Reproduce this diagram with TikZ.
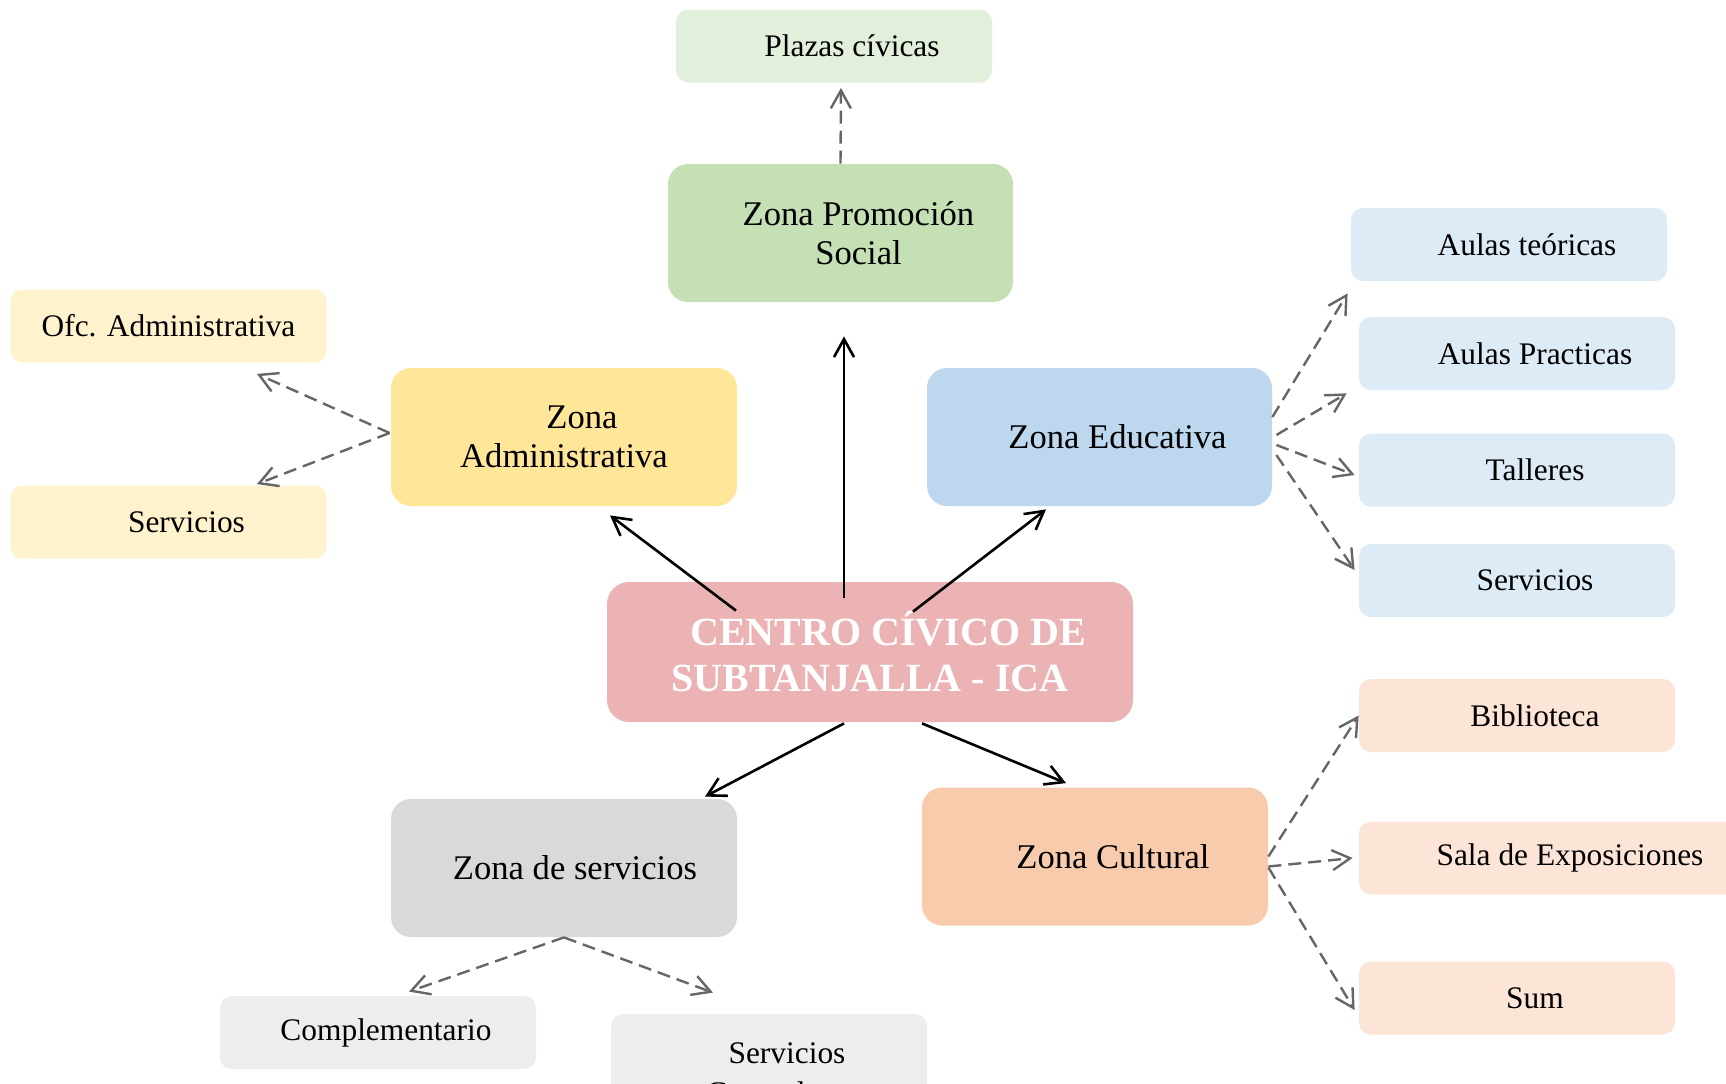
\documentclass[tikz,border=0pt]{standalone}
\usepackage{fontspec}
\setmainfont{Liberation Serif}
\usepackage{tikz}
\usetikzlibrary{arrows.meta, positioning}
\definecolor{rosa}{HTML}{EBB3B3}
\definecolor{verde}{HTML}{C5E0B4}
\definecolor{verdeclaro}{HTML}{E2EFDA}
\definecolor{amarillo}{HTML}{FFE699}
\definecolor{amarilloclaro}{HTML}{FFF2CC}
\definecolor{azul}{HTML}{BDD7EE}
\definecolor{azulclaro}{HTML}{DDEBF7}
\definecolor{naranja}{HTML}{F8CBAD}
\definecolor{naranjaclaro}{HTML}{FCE4D6}
\definecolor{gris}{HTML}{D9D9D9}
\definecolor{grisclaro}{HTML}{EDEDED}
\definecolor{linea}{HTML}{666666}
\newcommand{\indt}[1][18pt]{\hspace*{#1}}

\begin{document}
\begin{tikzpicture}[
    x=0.5pt, y=-0.5pt,
    box/.style={rectangle, inner sep=0pt, align=center},
    zona/.style={box, rounded corners=10pt, minimum width=173pt,
                 minimum height=69pt, font=\fontsize{17.3}{19.5}\selectfont},
    subbox/.style={box, rounded corners=6pt, minimum width=158pt,
                   minimum height=36.5pt, font=\fontsize{15.7}{20}\selectfont},
    arrow/.style={-{Straight Barb[length=9pt, width=10pt]}, line width=1.3pt},
    dasharrow/.style={arrow, draw=linea, line width=1.2pt,
                      dash pattern=on 6.5pt off 3.5pt}
  ]
    \useasboundingbox (0,0) rectangle (1726,1083);

    % centro
    \node[box, rounded corners=11pt, fill=rosa, text=white,
          minimum width=263pt, minimum height=70pt,
          font=\fontsize{20}{23}\selectfont\bfseries] (centro) at (870,652)
      {\indt CENTRO CÍVICO DE\\SUBTANJALLA - ICA};

    % zonas y ambientes
    \node[zona, fill=verde, minimum width=172.5pt] (promo) at (840.5,233) {\indt Zona Promoción\\\indt Social};
    \node[subbox, fill=verdeclaro] (plazas) at (834,46) {\indt Plazas cívicas};

    \node[zona, fill=amarillo] (admin) at (564,437) {\indt Zona\\Administrativa};
    \node[subbox, fill=amarilloclaro] (ofc) at (168.5,326) {Ofc. Administrativa};
    \node[subbox, fill=amarilloclaro] (adserv) at (168.5,522) {\indt Servicios};

    \node[zona, fill=azul, minimum width=172.5pt] (edu) at (1099.5,437) {\indt Zona Educativa};
    \node[subbox, fill=azulclaro] (teo) at (1509,244.5) {\indt Aulas teóricas};
    \node[subbox, fill=azulclaro] (prac) at (1517,353.5) {\indt Aulas Practicas};
    \node[subbox, fill=azulclaro] (taller) at (1517,470) {\indt Talleres};
    \node[subbox, fill=azulclaro] (eduserv) at (1517,580.5) {\indt Servicios};

    \node[zona, fill=naranja] (cultura) at (1095,856.5) {\indt Zona Cultural};
    \node[subbox, fill=naranjaclaro] (biblio) at (1517,715.5) {\indt Biblioteca};
    \node[subbox, fill=naranjaclaro, minimum width=211pt] (sala) at (1570,858) {Sala de Exposiciones};
    \node[subbox, fill=naranjaclaro] (sum) at (1517,998) {\indt Sum};

    \node[zona, fill=gris] (servicios) at (564,868) {\indt[11pt]Zona de servicios};
    \node[subbox, fill=grisclaro] (compl) at (378,1032.5) {\indt[8pt]Complementario};
    \node[subbox, fill=grisclaro, minimum height=59.3pt] (generales) at (769,1073.3) {\indt Servicios\\Generales};

    % flechas principales
    \draw[arrow] ([shift={(-134,29)}]centro.north) -- ([shift={(46,9)}]admin.south);
    \draw[arrow] ([shift={(-26,16)}]centro.north) -- ([shift={(3.5,34)}]promo.south);
    \draw[arrow] ([shift={(43,30)}]centro.north) -- ([shift={(-53.5,3)}]edu.south);
    \draw[arrow] ([shift={(-26,1)}]centro.south) -- ([shift={(141,-2)}]servicios.north);
    \draw[arrow] ([shift={(52,1)}]centro.south) -- ([shift={(-29,-4)}]cultura.north);

    % flechas secundarias
    \draw[dasharrow] (promo.north) -- ([shift={(7,5)}]plazas.south);
    \draw[dasharrow] ([shift={(-1,-4)}]admin.west) -- ([shift={(-70,11)}]ofc.south east);
    \draw[dasharrow] ([shift={(-1,-4)}]admin.west) -- ([shift={(-70,-1)}]adserv.north east);
    \draw[dasharrow] ([shift={(0,-20)}]edu.east) -- ([shift={(-3,12)}]teo.south west);
    \draw[dasharrow] ([shift={(4,-2)}]edu.east) -- ([shift={(-12,3)}]prac.south west);
    \draw[dasharrow] ([shift={(4,8)}]edu.east) -- ([shift={(-4,5)}]taller.west);
    \draw[dasharrow] ([shift={(4,18)}]edu.east) -- ([shift={(-4,-10.5)}]eduserv.west);
    \draw[dasharrow] (cultura.east) -- (biblio.west);
    \draw[dasharrow] ([shift={(0,10)}]cultura.east) -- ([shift={(-6,0)}]sala.west);
    \draw[dasharrow] ([shift={(0,11)}]cultura.east) -- ([shift={(-4,12)}]sum.west);
    \draw[dasharrow] (servicios.south) -- ([shift={(31,-4)}]compl.north);
    \draw[dasharrow] (servicios.south) -- ([shift={(-56,-21)}]generales.north);
\end{tikzpicture}
\end{document}
